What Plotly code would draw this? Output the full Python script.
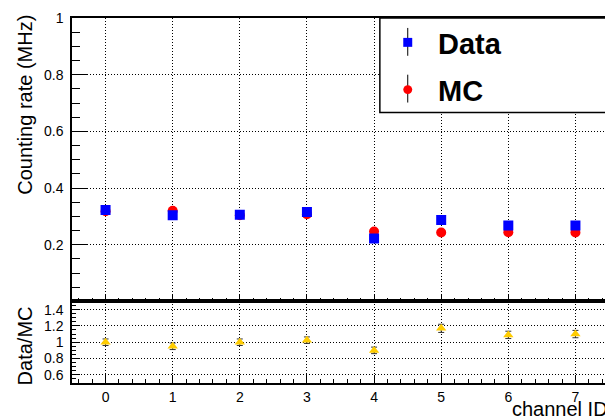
import plotly.graph_objects as go

channels = [0, 1, 2, 3, 4, 5, 6, 7]
data_rate = [0.323, 0.304, 0.306, 0.316, 0.222, 0.287, 0.268, 0.268]
data_err = [0.004, 0.004, 0.004, 0.004, 0.004, 0.004, 0.004, 0.004]
mc_rate = [0.318, 0.320, 0.304, 0.308, 0.247, 0.243, 0.244, 0.243]
mc_err = [0.003, 0.003, 0.003, 0.003, 0.003, 0.003, 0.003, 0.003]
ratio = [1.00, 0.95, 1.00, 1.025, 0.90, 1.17, 1.09, 1.10]
ratio_err = [0.04, 0.04, 0.04, 0.04, 0.04, 0.05, 0.045, 0.045]

top_yticks = [0.2, 0.4, 0.6, 0.8, 1.0]
top_yticklabels = ["0.2", "0.4", "0.6", "0.8", "1"]
bot_yticks = [0.6, 0.8, 1.0, 1.2, 1.4]
bot_yticklabels = ["0.6", "0.8", "1", "1.2", "1.4"]

FONT = "Liberation Sans, Arial, Helvetica, sans-serif"

# page has an 8px body margin: figure is drawn offset by (8, 8)
OFF = 8
W, H = 613 - OFF, 419 - OFF
L, R, T, B = 72 - OFF, 2, 16 - OFF, 36
pw, ph = W - L - R, H - T - B
split = (383 - 301) / ph


def px(x):  # screen x -> paper
    return (x - 72) / pw


def py(y):  # screen y -> paper
    return (383 - y) / ph


fig = go.Figure()

fig.add_trace(go.Scatter(
    x=channels, y=mc_rate, mode="markers", name="MC",
    marker=dict(symbol="circle", size=10, color="#ff0000"),
    error_y=dict(type="data", array=mc_err, color="black", thickness=1, width=0),
    xaxis="x", yaxis="y", showlegend=False))
fig.add_trace(go.Scatter(
    x=channels, y=data_rate, mode="markers", name="Data",
    marker=dict(symbol="square", size=10, color="#0000ff"),
    error_y=dict(type="data", array=data_err, color="black", thickness=1, width=0),
    xaxis="x", yaxis="y", showlegend=False))
fig.add_trace(go.Scatter(
    x=channels, y=ratio, mode="markers", name="Data/MC",
    marker=dict(symbol="triangle-up", size=9, color="#ffcc00"),
    error_y=dict(type="data", array=ratio_err, color="#333333", thickness=1, width=3),
    xaxis="x2", yaxis="y2", showlegend=False))

axis_common = dict(
    showline=True, linecolor="black", linewidth=1.5, mirror=True,
    showgrid=True, gridcolor="black", griddash="1px,2px", gridwidth=1,
    zeroline=False, tickfont=dict(family=FONT, size=14, color="black"),
    ticklabeloverflow="allow",
)

fig.update_layout(
    width=W, height=H,
    margin=dict(l=L, r=R, t=T, b=B),
    paper_bgcolor="white", plot_bgcolor="white",
    font=dict(family=FONT, color="black"),
    xaxis=dict(domain=[0, 1], anchor="y", range=[-0.5, 7.5], tickvals=channels,
               showticklabels=False, ticks="inside", ticklen=8, tickcolor="black",
               minor=dict(ticks="inside", ticklen=4, dtick=0.2, tick0=0, tickcolor="black", showgrid=False),
               **axis_common),
    yaxis=dict(domain=[split, 1], anchor="x", range=[0, 1], tickvals=top_yticks,
               ticktext=top_yticklabels, ticks="inside", ticklen=16, tickcolor="black",
               ticklabelstandoff=4,
               minor=dict(ticks="inside", ticklen=8, dtick=0.05, tick0=0, tickcolor="black", showgrid=False),
               **axis_common),
    xaxis2=dict(domain=[0, 1], anchor="y2", range=[-0.5, 7.5], tickvals=channels,
                ticktext=[str(c) for c in channels], ticks="inside", ticklen=8, tickcolor="black",
                minor=dict(ticks="inside", ticklen=4, dtick=0.2, tick0=0, tickcolor="black", showgrid=False),
                **axis_common),
    yaxis2=dict(domain=[0, split], anchor="x2", range=[0.5, 1.5], tickvals=bot_yticks,
                ticktext=bot_yticklabels, ticks="inside", ticklen=8, tickcolor="black",
                ticklabelstandoff=4,
                minor=dict(ticks="inside", ticklen=4, dtick=0.05, tick0=0, tickcolor="black", showgrid=False),
                **axis_common),
)

# Axis titles (ROOT style)
fig.add_annotation(text="Counting rate (MHz)", xref="paper", yref="paper",
                   x=px(24), y=py(103), xanchor="center", yanchor="middle",
                   textangle=-90, showarrow=False, font=dict(family=FONT, size=20))
fig.add_annotation(text="Data/MC", xref="paper", yref="paper",
                   x=px(25), y=py(346), xanchor="center", yanchor="middle",
                   textangle=-90, showarrow=False, font=dict(family=FONT, size=20))
fig.add_annotation(text="channel ID", xref="paper", yref="paper",
                   x=px(611), y=py(409), xanchor="right", yanchor="middle",
                   borderpad=0, showarrow=False, font=dict(family=FONT, size=20))

# Legend box (ROOT TLegend style)
fig.add_shape(type="rect", xref="paper", yref="paper",
              x0=px(381), x1=px(611), y0=py(111), y1=py(16),
              line=dict(color="black", width=1.5), fillcolor="white", layer="above")
# Data entry
fig.add_shape(type="line", xref="paper", yref="paper",
              x0=px(409), x1=px(409), y0=py(54), y1=py(26),
              line=dict(color="black", width=1), layer="above")
fig.add_shape(type="rect", xref="paper", yref="paper",
              x0=px(404.5), x1=px(413.5), y0=py(45), y1=py(36),
              line=dict(width=0), fillcolor="#0000ff", layer="above")
fig.add_annotation(text="<b>Data</b>", xref="paper", yref="paper",
                   x=px(437), y=py(42), xanchor="left", yanchor="middle",
                   showarrow=False, font=dict(family=FONT, size=29))
# MC entry
fig.add_shape(type="line", xref="paper", yref="paper",
              x0=px(409), x1=px(409), y0=py(101), y1=py(73),
              line=dict(color="black", width=1), layer="above")
fig.add_shape(type="circle", xref="paper", yref="paper",
              x0=px(404.5), x1=px(413.5), y0=py(92.5), y1=py(83.5),
              line=dict(width=0), fillcolor="#ff0000", layer="above")
fig.add_annotation(text="<b>MC</b>", xref="paper", yref="paper",
                   x=px(437), y=py(89), xanchor="left", yanchor="middle",
                   showarrow=False, font=dict(family=FONT, size=29))

fig.write_html("out.html")
